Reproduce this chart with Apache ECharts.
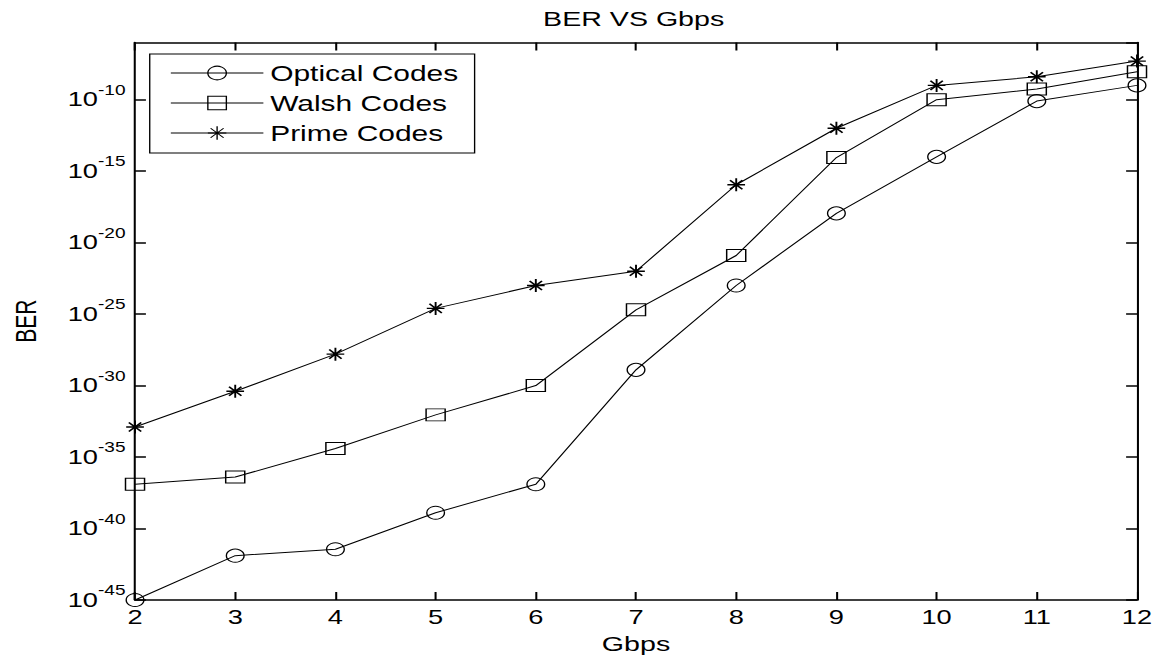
<!DOCTYPE html>
<html>
<head>
<meta charset="utf-8">
<title>BER VS Gbps</title>
<script src="https://cdn.jsdelivr.net/npm/echarts@6/dist/echarts.min.js"></script>
<style>
  html, body { margin: 0; padding: 0; background: #fff; overflow: hidden; }
  /* the figure is drawn at a narrower width and widened horizontally */
  #chart {
    width: 850px;
    height: 659px;
    transform: scaleX(1.36118);
    transform-origin: 0 0;
  }
</style>
</head>
<body>
<div id="chart"></div>
<script>
// Data rate (Gbps)
const gbps = [2, 3, 4, 5, 6, 7, 8, 9, 10, 11, 12];

// log10(BER) for each coding scheme
const opticalBerExp = [-45.0, -41.9, -41.45, -38.9, -36.9, -28.9, -23.0, -17.95, -14.0, -10.1, -9.0];
const walshBerExp   = [-36.9, -36.4, -34.4, -32.05, -30.0, -24.7, -20.9, -14.05, -10.0, -9.25, -8.05];
const primeBerExp   = [-32.9, -30.4, -27.8, -24.6, -23.0, -22.0, -15.95, -12.0, -9.0, -8.4, -7.3];

// Axis extents (decades) and tick steps
const berExpRange = [-45, -6];
const berExpStep = 5;
const gbpsRange = [2, 12];
const gbpsStep = 1;

const seriesNames = ['Optical Codes', 'Walsh Codes', 'Prime Codes'];

const FONT = '"Liberation Sans", Arial, sans-serif';
const INK = '#000';

const asterisk = 'path://M0,5L10,5M5,0L5,10M1.5,1.5L8.5,8.5M1.5,8.5L8.5,1.5';

const pairs = vals => gbps.map((g, i) => [g, vals[i]]);

function makeSeries(name, vals, symbol, size, bw) {
  return {
    name: name,
    type: 'line',
    data: pairs(vals),
    symbol: symbol,
    symbolSize: size,
    showAllSymbol: true,
    lineStyle: { color: INK, width: 1 },
    itemStyle: { color: 'transparent', borderColor: INK, borderWidth: bw },
    emphasis: { disabled: true },
    z: 3
  };
}

const tickBase = {
  show: true,
  inside: true,
  length: 8,
  lineStyle: { color: INK, width: 1.5 }
};
const lineBase = { show: true, lineStyle: { color: INK, width: 1.5 } };

const chart = echarts.init(document.getElementById('chart'), null, { renderer: 'svg' });

chart.setOption({
  animation: false,
  backgroundColor: '#fff',
  title: {
    text: 'BER VS Gbps',
    left: 399,
    top: 8,
    padding: 0,
    textStyle: { fontFamily: FONT, fontSize: 21, fontWeight: 'normal', color: INK }
  },
  legend: {
    data: seriesNames,
    orient: 'vertical',
    left: 110,
    top: 54,
    padding: [8, 12, 9, 15],
    itemGap: 8,
    itemWidth: 68,
    itemHeight: 17,
    borderColor: INK,
    borderWidth: 1,
    backgroundColor: '#fff',
    selectedMode: false,
    itemStyle: { color: 'transparent', borderColor: INK, borderWidth: 1 },
    lineStyle: { color: INK, width: 1 },
    textStyle: { fontFamily: FONT, fontSize: 22, color: INK }
  },
  grid: { left: 99.2, right: 14.7, top: 42.5, bottom: 59, containLabel: false },
  xAxis: [
    {
      type: 'value',
      min: gbpsRange[0],
      max: gbpsRange[1],
      interval: gbpsStep,
      position: 'bottom',
      name: 'Gbps',
      nameLocation: 'middle',
      nameGap: 33,
      nameTextStyle: { fontFamily: FONT, fontSize: 21, color: INK },
      axisLine: lineBase,
      axisTick: tickBase,
      axisLabel: { margin: 7, fontFamily: FONT, fontSize: 20, color: INK },
      splitLine: { show: false }
    },
    {
      type: 'value',
      min: gbpsRange[0],
      max: gbpsRange[1],
      interval: gbpsStep,
      position: 'top',
      axisLine: lineBase,
      axisTick: tickBase,
      axisLabel: { show: false },
      splitLine: { show: false }
    }
  ],
  yAxis: [
    {
      type: 'value',
      min: berExpRange[0],
      max: berExpRange[1],
      interval: berExpStep,
      position: 'left',
      name: 'BER',
      nameLocation: 'middle',
      nameGap: 70,
      nameTextStyle: { fontFamily: FONT, fontSize: 21, color: INK },
      axisLine: lineBase,
      axisTick: tickBase,
      axisLabel: {
        margin: 7,
        padding: [0, 0, 7, 0],
        showMaxLabel: false,
        fontFamily: FONT,
        color: INK,
        formatter: v => (v % berExpStep === 0 ? '{b|10}{s|' + v + '}' : ''),
        rich: {
          b: { fontFamily: FONT, fontSize: 20, color: INK, padding: [6, 0, 0, 0], verticalAlign: 'bottom' },
          s: { fontFamily: FONT, fontSize: 14, color: INK, verticalAlign: 'top' }
        }
      },
      splitLine: { show: false }
    },
    {
      type: 'value',
      min: berExpRange[0],
      max: berExpRange[1],
      interval: berExpStep,
      position: 'right',
      axisLine: lineBase,
      axisTick: tickBase,
      axisLabel: { show: false },
      splitLine: { show: false }
    }
  ],
  series: [
    makeSeries(seriesNames[0], opticalBerExp, 'circle', 13, 1),
    makeSeries(seriesNames[1], walshBerExp, 'rect', [14, 12], 1),
    makeSeries(seriesNames[2], primeBerExp, asterisk, 13, 1.4)
  ]
});
</script>
</body>
</html>
